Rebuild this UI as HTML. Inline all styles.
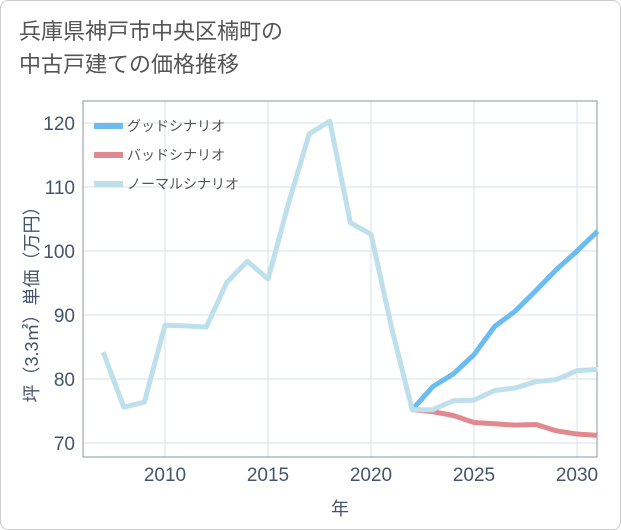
<!DOCTYPE html>
<html><head><meta charset="utf-8"><style>
body{margin:0;background:#fff;font-family:"Liberation Sans","Noto Sans CJK JP",sans-serif;}
#wrap{position:relative;width:619px;height:528px;border:1px solid #ccc;border-radius:8px;overflow:hidden;background:#fff}
#title{position:absolute;left:18px;top:14px;font-size:22px;line-height:33px;color:#555;}
</style></head><body>
<div id="wrap">
<div id="title">兵庫県神戸市中央区楠町の<br>中古戸建ての価格推移</div>
<svg id="chart" width="621" height="530" style="position:absolute;left:-1px;top:-1px"></svg>
</div>
<script>
const years=[2007,2008,2009,2010,2011,2012,2013,2014,2015,2016,2017,2018,2019,2020,2021,2022,2023,2024,2025,2026,2027,2028,2029,2030,2031];
const normal=[84.2,75.6,76.4,88.4,88.3,88.1,95.1,98.4,95.6,107.5,118.3,120.3,104.4,102.6,88,75.2,75.2,76.6,76.7,78.2,78.6,79.6,79.9,81.3,81.5];
const futureYears=[2022,2023,2024,2025,2026,2027,2028,2029,2030,2031];
const good=[75.2,78.8,80.8,83.8,88.2,90.6,93.8,97.1,100,103.1];
const bad=[75.2,74.9,74.3,73.2,73.0,72.8,72.9,71.9,71.4,71.2];
const yTicks=[70,80,90,100,110,120];
const xTicks=[2010,2015,2020,2025,2030];
const NS='http://www.w3.org/2000/svg';
const svg=document.getElementById('chart');
const L=83,R=597,T=101,B=457;
function x(v){return 165+(v-2010)*20.6;}
function y(v){return 443-(v-70)*6.4;}
function mk(t,a){const e=document.createElementNS(NS,t);for(const k in a)e.setAttribute(k,a[k]);svg.appendChild(e);return e;}
yTicks.forEach(v=>{
 const g=mk('line',{x1:L,x2:R,y1:y(v),y2:y(v),stroke:'#d5e0e8','stroke-width':1});
 
 
 const t=mk('text',{x:L-8,y:y(v)+7,'text-anchor':'end','font-size':19,fill:'#44546a'});
 t.textContent=v;
 
 
});
xTicks.forEach(v=>{
 const g=mk('line',{x1:x(v),x2:x(v),y1:T,y2:B,stroke:'#d5e0e8','stroke-width':1});
 
 
 const t=mk('text',{x:x(v),y:B+24,'text-anchor':'middle','font-size':19,fill:'#44546a'});
 t.textContent=v;
 
 
});
const fr=mk('rect',{x:L,y:T,width:R-L,height:B-T,fill:'none',stroke:'#8a949e','stroke-width':1});


function line(xs,ys,c,name){
 const p=mk('polyline',{points:xs.map((v,i)=>x(v)+','+y(ys[i])).join(' '),fill:'none',stroke:c,'stroke-width':5,'stroke-linejoin':'round'});
 
 
}
line(futureYears,good,'#6cbcf0','good-scenario-line');
line(futureYears,bad,'#e08a90','bad-scenario-line');
line(years,normal,'#bde0ec','normal-scenario-line');
const leg=[['グッドシナリオ','#6cbcf0'],['バッドシナリオ','#e08a90'],['ノーマルシナリオ','#bde0ec']];
leg.forEach((d,i)=>{
 const yy=126+i*29;
 const s=mk('line',{x1:94,x2:123,y1:yy,y2:yy,stroke:d[1],'stroke-width':6});
 
 
 const t=mk('text',{x:127,y:yy+5,'font-size':14,fill:'#555'});
 t.textContent=d[0];
 
 
});
const yt=mk('text',{x:0,y:0,'font-size':18,fill:'#44546a','text-anchor':'middle',transform:'translate(38,300) rotate(-90)'});
yt.textContent='坪（3.3㎡）単価（万円）';


const xt=mk('text',{x:340,y:515,'font-size':18,fill:'#44546a','text-anchor':'middle'});
xt.textContent='年';


</script>
</body></html>
